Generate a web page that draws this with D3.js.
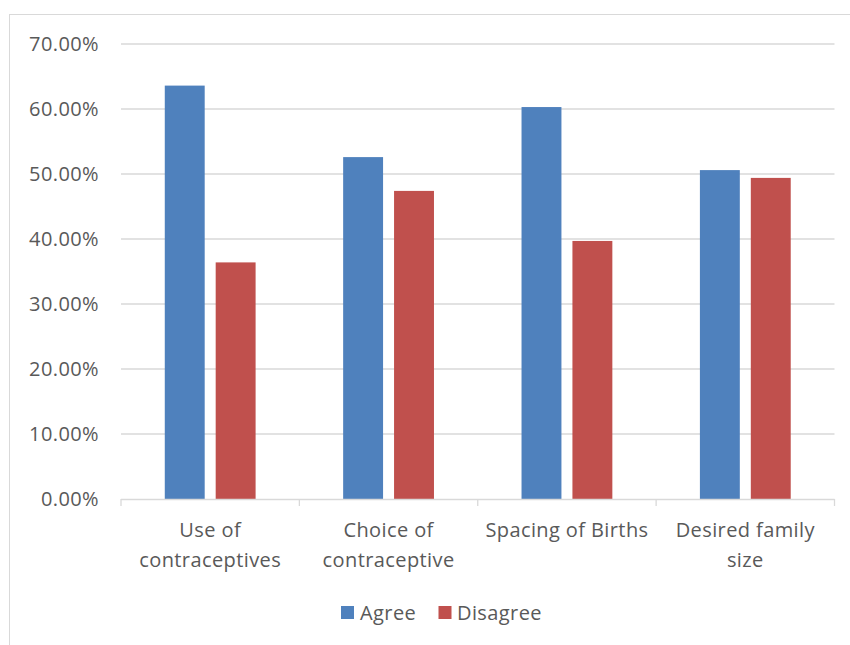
<!DOCTYPE html>
<html>
<head>
<meta charset="utf-8">
<script src="https://cdn.jsdelivr.net/npm/d3@7"></script>
<style>
  html, body { margin: 0; padding: 0; background: #fff; }
  svg { display: block; }
  text { font-family: "Open Sans", "Noto Sans", sans-serif; fill: #595959; letter-spacing: 0.4px; }
</style>
</head>
<body>
<svg id="chart" width="850" height="645"></svg>
<script>
const categories = ["Use of contraceptives", "Choice of contraceptive", "Spacing of Births", "Desired family size"];
const categoryLines = [["Use of", "contraceptives"], ["Choice of", "contraceptive"], ["Spacing of Births"], ["Desired family", "size"]];
const seriesNames = ["Agree", "Disagree"];
const agree = [0.636, 0.526, 0.603, 0.506];
const disagree = [0.364, 0.474, 0.397, 0.494];
const yTicks = [0, 0.1, 0.2, 0.3, 0.4, 0.5, 0.6, 0.7];
const colors = ["#4F81BD", "#C0504D"];

const svg = d3.select("#chart");
const W = 850, H = 645;

// outer frame
svg.append("rect").attr("x", 9.5).attr("y", 14.5).attr("width", W).attr("height", H)
  .attr("fill", "#fff").attr("stroke", "#d9d9d9").attr("stroke-width", 1);

const pLeft = 121, pRight = 834.5, pTop = 44, pBottom = 499;

const x = d3.scaleBand().domain(categories).range([pLeft, pRight]).paddingInner(0).paddingOuter(0);
const y = d3.scaleLinear().domain([0, 0.7]).range([pBottom, pTop]);
const inner = d3.scaleBand().domain(seriesNames).range([0, x.bandwidth()]).paddingInner(0.216).paddingOuter(0.86);

// gridlines
svg.append("g").selectAll("line").data(yTicks.filter(d => d > 0)).join("line")
  .attr("x1", pLeft).attr("x2", pRight)
  .attr("y1", d => y(d)).attr("y2", d => y(d))
  .attr("stroke", "#d9d9d9").attr("stroke-width", 1.3);

// y labels
svg.append("g").selectAll("text").data(yTicks).join("text")
  .attr("x", 99).attr("y", d => y(d)).attr("dy", "0.35em")
  .attr("text-anchor", "end").attr("font-size", 20)
  .text(d => d3.format(".2%")(d));

// bars
const data = categories.map((c, i) => ({ cat: c, vals: [agree[i], disagree[i]] }));
const groups = svg.append("g").selectAll("g").data(data).join("g")
  .attr("transform", d => `translate(${x(d.cat)},0)`);
groups.selectAll("rect").data(d => d.vals.map((v, j) => ({ name: seriesNames[j], v, j }))).join("rect")
  .attr("x", d => inner(d.name)).attr("width", inner.bandwidth())
  .attr("y", d => y(d.v)).attr("height", d => y(0) - y(d.v))
  .attr("fill", d => colors[d.j]);

// x axis line and ticks
const ax = svg.append("g");
ax.append("line").attr("x1", pLeft).attr("x2", pRight).attr("y1", pBottom + 0.5).attr("y2", pBottom + 0.5)
  .attr("stroke", "#d9d9d9").attr("stroke-width", 1.3);
const tickPos = categories.map(c => x(c)).concat([pRight]);
ax.selectAll("line.tick").data(tickPos).join("line").attr("class", "tick")
  .attr("x1", d => d).attr("x2", d => d).attr("y1", pBottom).attr("y2", pBottom + 7)
  .attr("stroke", "#d9d9d9").attr("stroke-width", 1.3);

// category labels
const labels = svg.append("g").selectAll("text").data(categories).join("text")
  .attr("text-anchor", "middle").attr("font-size", 20)
  .attr("x", d => x(d) + x.bandwidth() / 2).attr("y", 537);
labels.selectAll("tspan").data((d, i) => categoryLines[i]).join("tspan")
  .attr("x", function() { return d3.select(this.parentNode).attr("x"); })
  .attr("dy", (d, i) => i === 0 ? 0 : 30)
  .text(d => d);

// legend
const legendItems = [{ name: seriesNames[0], sx: 341, tx: 360 }, { name: seriesNames[1], sx: 438.5, tx: 457 }];
const lg = svg.append("g");
legendItems.forEach((it, i) => {
  lg.append("rect").attr("x", it.sx).attr("y", 606).attr("width", 13).attr("height", 13).attr("fill", colors[i]);
  lg.append("text").attr("x", it.tx).attr("y", 612.5).attr("dy", "0.35em").attr("font-size", 20).text(it.name);
});
</script>
</body>
</html>
